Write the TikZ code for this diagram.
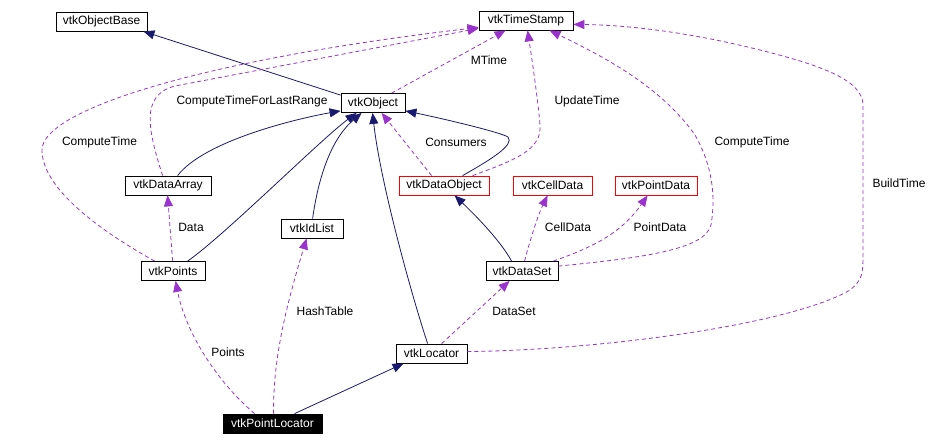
\documentclass[tikz,border=0pt]{standalone}
\usepackage{fontspec}
\setmainfont{Liberation Sans}
\usetikzlibrary{arrows.meta,calc}
\definecolor{inhcol}{HTML}{191970}
\definecolor{usecol}{HTML}{9A32CD}
\begin{document}
\begin{tikzpicture}[x=1pt,y=-1pt,
  box/.style={draw=black,fill=white,line width=0.8pt,rectangle,inner sep=1pt,minimum height=19pt,font=\fontsize{12}{14}\selectfont},
  redbox/.style={box,draw=red},
  blackbox/.style={box,fill=black,text=white},
  lbl/.style={inner sep=0pt,font=\fontsize{12}{14}\selectfont},
  inh/.style={draw=inhcol,line width=0.8pt,-{Triangle[length=11pt,width=9pt]},color=inhcol},
  use/.style={draw=usecol,line width=0.8pt,dash pattern=on 4pt off 3pt,-{Triangle[length=11pt,width=9pt]},color=usecol}]
\useasboundingbox (0,0) rectangle (936,445);

\node[box,minimum width=91pt] (ob) at (101.5,21.5) {vtkObjectBase};
\node[box,minimum width=94pt] (ts) at (526,20.5) {vtkTimeStamp};
\node[box,minimum width=64pt] (obj) at (373,103) {vtkObject};
\node[box,minimum width=86pt] (da) at (168,185.5) {vtkDataArray};
\node[box,minimum width=62pt] (idl) at (312,228.5) {vtkIdList};
\node[redbox,minimum width=90pt] (dob) at (444,185.5) {vtkDataObject};
\node[redbox,minimum width=79pt] (cd) at (552.5,185.5) {vtkCellData};
\node[redbox,minimum width=82pt] (pd) at (656,185.5) {vtkPointData};
\node[box,minimum width=64pt] (vp) at (173,271) {vtkPoints};
\node[box,minimum width=72pt] (ds) at (522,271) {vtkDataSet};
\node[box,minimum width=71pt] (loc) at (431.5,353.5) {vtkLocator};
\node[blackbox,minimum width=99pt] (pl) at (272.5,423.5) {vtkPointLocator};

% labels
\node[lbl] (lmt) at (489,60) {MTime};
\node[lbl] (lctr) at (252,101) {ComputeTimeForLastRange};
\node[lbl] (lct1) at (99.5,142) {ComputeTime};
\node[lbl] (lcons) at (456,142) {Consumers};
\node[lbl] (lupd) at (587,101) {UpdateTime};
\node[lbl] (lct2) at (752,142) {ComputeTime};
\node[lbl] (lbt) at (899,183) {BuildTime};
\node[lbl] (ldata) at (191,227) {Data};
\node[lbl] (lcd) at (568,227) {CellData};
\node[lbl] (lpd) at (660,227) {PointData};
\node[lbl] (lht) at (325,311) {HashTable};
\node[lbl] (lds) at (514,311) {DataSet};
\node[lbl] (lpts) at (228,352) {Points};

% inheritance
\draw[inh] ($(obj.north west)+(0,2)$) -- ($(ob.south east)+(-4,0)$);
\draw[inh] ($(da.north west)+(53,0)$) .. controls (205,140) and (300,118) .. ($(obj.south west)+(0,-2)$);
\draw[inh] ($(vp.north west)+(47,0)$) .. controls (225,235) and (320,140) .. ($(obj.south west)+(16,0)$);
\draw[inh] ($(idl.north west)+(32,0)$) .. controls (318,180) and (330,140) .. ($(obj.south west)+(21,0)$);
\draw[inh] ($(loc.north west)+(32,0)$) .. controls (410,290) and (380,180) .. ($(obj.south west)+(32,0)$);
\draw[inh] ($(dob.north west)+(64,0)$) .. controls (490,160) and (515,145) .. (508,137) .. controls (500,132) and (440,118) .. ($(obj.south east)+(0,-2)$);
\draw[inh] ($(ds.north west)+(26,0)$) .. controls (500,240) and (475,215) .. ($(dob.south west)+(56,0)$);
\draw[inh] ($(pl.north west)+(72,0)$) -- ($(loc.south west)+(8,0)$);

% usage
\draw[use] ($(obj.north west)+(51,0)$) -- ($(ts.south west)+(27,0)$);
\draw[use] ($(dob.north west)+(33,0)$) -- ($(obj.south west)+(41,0)$);
\draw[use] ($(dob.north west)+(74,0)$) .. controls (515,160) and (542,150) .. (540,125) .. controls (538,100) and (532,60) .. ($(ts.south west)+(49,0)$);
\draw[use] ($(da.north west)+(38,0)$) .. controls (148,130) and (140,95) .. (175,86) -- ($(ts.south west)+(0,-2)$);
\draw[use] ($(vp.north west)+(14,0)$) .. controls (90,225) and (42,185) .. (42,150) .. controls (42,110) and (200,60) .. ($(ts.south west)+(0,-3)$);
\draw[use] ($(ds.north east)+(0,5)$) .. controls (640,258) and (705,250) .. (711,225) .. controls (716,195) and (712,165) .. (695,135) .. controls (660,85) and (600,55) .. ($(ts.south west)+(71,0)$);
\draw[use] ($(loc.north east)+(0,8)$) .. controls (600,350) and (790,325) .. (850,290) .. controls (862,280) and (863,275) .. (863,255) -- (863,105) .. controls (863,80) and (820,65) .. (760,50) .. controls (680,30) and (620,25) .. ($(ts.south east)+(0,-6)$);
\draw[use] ($(ds.north west)+(39,0)$) .. controls (530,240) and (538,215) .. ($(cd.south west)+(35,0)$);
\draw[use] ($(ds.north east)+(-5,0)$) .. controls (590,248) and (620,235) .. ($(pd.south west)+(33,0)$);
\draw[use] ($(vp.north west)+(32,0)$) -- ($(da.south west)+(43,0)$);
\draw[use] ($(pl.north west)+(32,0)$) .. controls (215,380) and (185,330) .. ($(vp.south west)+(35,0)$);
\draw[use] ($(pl.north west)+(51,0)$) .. controls (273,360) and (285,310) .. ($(idl.south west)+(26,0)$);
\draw[use] ($(loc.north west)+(46,0)$) -- ($(ds.south west)+(24,0)$);
\end{tikzpicture}
\end{document}
